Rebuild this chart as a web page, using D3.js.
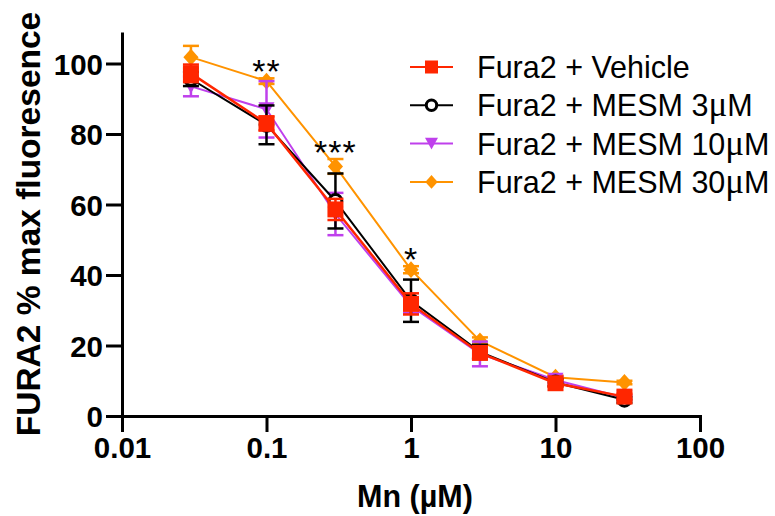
<!DOCTYPE html>
<html>
<head>
<meta charset="utf-8">
<script src="https://cdn.jsdelivr.net/npm/d3@7"></script>
<style>
  body { margin: 0; background: #fff; }
  text { font-family: "Liberation Sans", Arial, Helvetica, sans-serif; }
</style>
</head>
<body>
<svg id="chart" width="775" height="516"></svg>
<script>
// Mn concentrations (µM)
const doses = [0.03, 0.1, 0.3, 1, 3, 10, 30];

// mean % max fluorescence and SEM per group
const vehicle    = [97.2, 83.0, 58.6, 31.8, 17.9, 9.3, 5.5];
const vehicleErr = [2.5, 2.0, 3.0, 3.0, 1.5, 1.0, 0.8];
const mesm3      = [95.6, 82.6, 61.0, 32.7, 18.2, 9.5, 4.6];
const mesm3Err   = [2.0, 5.5, 7.8, 6.0, 2.0, 1.0, 0.8];
const mesm10     = [93.5, 87.0, 57.3, 31.2, 17.6, 10.2, 5.2];
const mesm10Err  = [2.8, 8.0, 6.0, 2.0, 3.5, 1.0, 0.6];
const mesm30     = [101.8, 95.0, 70.8, 41.5, 21.3, 11.0, 9.5];
const mesm30Err  = [3.2, 0.8, 2.1, 1.0, 1.0, 0.5, 0.5];

const seriesNames = ["Fura2 + Vehicle", "Fura2 + MESM 3", "Fura2 + MESM 10", "Fura2 + MESM 30"];
const xTicks = [0.01, 0.1, 1, 10, 100];
const xTickLabels = ["0.01", "0.1", "1", "10", "100"];
const yTicks = [0, 20, 40, 60, 80, 100];

// significance vs vehicle (marked above the 30µM curve)
const sigDoses = [0.1, 0.3, 1];
const sigLabels = ["**", "***", "*"];

const series = [
  {name: seriesNames[0], mu: false, y: vehicle, err: vehicleErr, color: "#ff2600", shape: "square"},
  {name: seriesNames[1], mu: true,  y: mesm3,   err: mesm3Err,   color: "#000000", shape: "circle"},
  {name: seriesNames[2], mu: true,  y: mesm10,  err: mesm10Err,  color: "#bf40ec", shape: "triangle"},
  {name: seriesNames[3], mu: true,  y: mesm30,  err: mesm30Err,  color: "#ff9300", shape: "diamond"}
];

const svg = d3.select("#chart");

const x = d3.scaleLog().domain([0.01, 100]).range([122, 700]);
const yMax = 108.5;
const y = d3.scaleLinear().domain([0, yMax]).range([416, 416 - yMax * 3.525]);

function drawMarker(g, s, size) {
  if (s.shape == "square") {
    g.append("rect")
      .attr("x", -size / 2).attr("y", -size / 2)
      .attr("width", size).attr("height", size)
      .attr("fill", s.color);
  } else if (s.shape == "circle") {
    g.append("circle")
      .attr("r", size * 0.4)
      .attr("fill", "#fff")
      .attr("stroke", s.color)
      .attr("stroke-width", 3);
  } else if (s.shape == "triangle") {
    let h = size * 0.9;
    g.append("path")
      .attr("d", `M${-size / 2},${-h / 2}L${size / 2},${-h / 2}L0,${h / 2}Z`)
      .attr("fill", s.color);
  } else {
    let w = size * 0.95, h = size * 1.05;
    g.append("path")
      .attr("d", `M0,${-h / 2}L${w / 2},0L0,${h / 2}L${-w / 2},0Z`)
      .attr("fill", s.color);
  }
}

// axes
const xAxis = d3.axisBottom(x)
  .tickValues(xTicks)
  .tickFormat((d, i) => xTickLabels[i])
  .tickSize(16).tickSizeOuter(0).tickPadding(5);

const yAxis = d3.axisLeft(y)
  .tickValues(yTicks)
  .tickSize(16).tickSizeOuter(0).tickPadding(3);

const gx = svg.append("g").attr("transform", `translate(0,${y(0)})`).call(xAxis);
const gy = svg.append("g").attr("transform", `translate(${x(0.01)},0)`).call(yAxis);

[gx, gy].forEach(function(g) {
  g.select(".domain").attr("stroke", "#000").attr("stroke-width", 3).attr("stroke-linecap", "square");
  g.selectAll(".tick line").attr("stroke", "#000").attr("stroke-width", 3);
  g.selectAll(".tick text")
    .attr("fill", "#000")
    .style("font-family", '"Liberation Sans", Arial, sans-serif')
    .style("font-size", "29.5px")
    .style("font-weight", "bold");
});
gy.selectAll(".tick text").attr("dy", "0.36em");

// axis titles
svg.append("text")
  .attr("x", (x(0.01) + x(100)) / 2 + 4)
  .attr("y", 507)
  .attr("text-anchor", "middle")
  .style("font-size", "30.5px")
  .style("font-weight", "bold")
  .text("Mn (µM)");

svg.append("text")
  .attr("transform", `translate(40,${224}) rotate(-90)`)
  .attr("text-anchor", "middle")
  .style("font-size", "33.5px")
  .style("font-weight", "bold")
  .text("FURA2 % max fluoresence");

// data, last series first so vehicle ends up on top
const line = d3.line().x(d => x(d[0])).y(d => y(d[1]));

series.slice().reverse().forEach(function(s) {
  let g = svg.append("g");
  let pts = doses.map((d, i) => [d, s.y[i], s.err[i]]);

  g.append("path")
    .datum(pts)
    .attr("d", line)
    .attr("fill", "none")
    .attr("stroke", s.color)
    .attr("stroke-width", s.shape == "square" ? 2.5 : 2);

  pts.forEach(function(p) {
    let cx = x(p[0]);
    let top = y(p[1] + p[2]), bot = y(p[1] - p[2]);
    let eb = g.append("g").attr("stroke", s.color).attr("stroke-width", 2.5);
    eb.append("line").attr("x1", cx).attr("x2", cx).attr("y1", top).attr("y2", bot);
    eb.append("line").attr("x1", cx - 8).attr("x2", cx + 8).attr("y1", top).attr("y2", top);
    eb.append("line").attr("x1", cx - 8).attr("x2", cx + 8).attr("y1", bot).attr("y2", bot);

    let m = g.append("g").attr("transform", `translate(${cx},${y(p[1])})`);
    drawMarker(m, s, 16);
  });
});

// significance stars
sigDoses.forEach(function(d, i) {
  let k = doses.indexOf(d);
  svg.append("text")
    .attr("x", x(d))
    .attr("y", y(mesm30[k] + mesm30Err[k]) + 5)
    .attr("text-anchor", "middle")
    .style("font-size", "34px")
    .style("letter-spacing", "1px")
    .text(sigLabels[i]);
});

// legend
const legend = svg.append("g").attr("transform", "translate(410,67)");
series.forEach(function(s, i) {
  let row = legend.append("g").attr("transform", `translate(0,${i * 38.3})`);
  row.append("line")
    .attr("x1", 0).attr("x2", 43)
    .attr("stroke", s.color).attr("stroke-width", 2);
  let m = row.append("g").attr("transform", "translate(21.5,0)");
  drawMarker(m, s, 13);
  let t = row.append("text")
    .attr("x", 67).attr("y", 11)
    .style("font-size", "30.5px")
    .text(s.name);
  if (s.mu) {
    t.append("tspan")
      .style("font-family", '"Liberation Serif", "Times New Roman", serif')
      .style("font-size", "35px")
      .text("μ");
    t.append("tspan").text("M");
  }
});
</script>
</body>
</html>
